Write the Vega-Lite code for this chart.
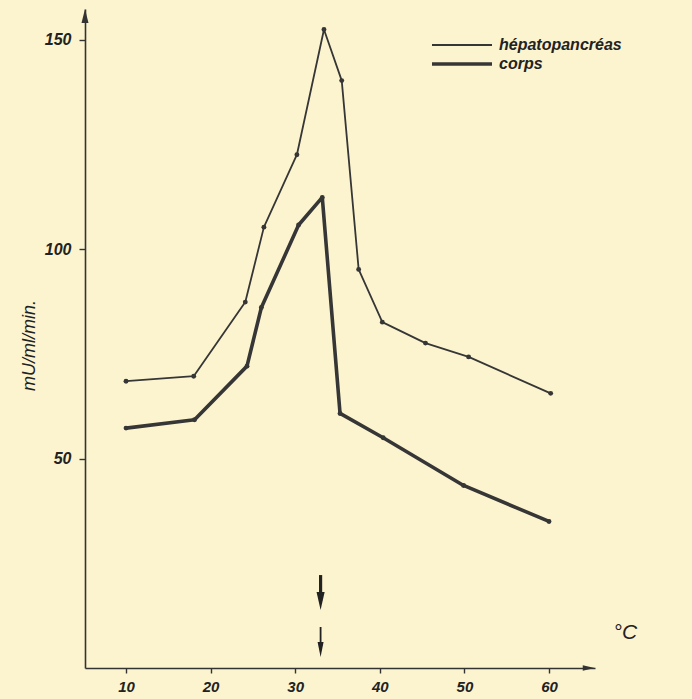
{
  "$schema": "https://vega.github.io/schema/vega-lite/v6.json",
  "width": 510,
  "height": 659,
  "autosize": {"type": "none"},
  "padding": {"left": 85, "top": 9, "right": 97, "bottom": 31},
  "background": "#fcf4cf",
  "config": {
    "view": {"stroke": null},
    "font": "Liberation Sans",
    "axis": {
      "grid": false,
      "domainColor": "#333333",
      "domainWidth": 1.6,
      "tickColor": "#333333",
      "tickWidth": 1.4,
      "labelFont": "Liberation Sans",
      "labelFontStyle": "italic",
      "labelFontWeight": "bold",
      "labelFontSize": 15,
      "labelColor": "#222222",
      "titleFont": "Liberation Sans",
      "titleFontStyle": "italic",
      "titleFontWeight": "normal",
      "titleColor": "#222222"
    }
  },
  "datasets": {
    "mesures": [
      {"serie": "hépatopancréas", "temp": 10, "act": 68.5},
      {"serie": "hépatopancréas", "temp": 18, "act": 69.7},
      {"serie": "hépatopancréas", "temp": 24.1, "act": 87.4},
      {"serie": "hépatopancréas", "temp": 26.3, "act": 105.3},
      {"serie": "hépatopancréas", "temp": 30.2, "act": 122.6},
      {"serie": "hépatopancréas", "temp": 33.4, "act": 152.5},
      {"serie": "hépatopancréas", "temp": 35.5, "act": 140.3},
      {"serie": "hépatopancréas", "temp": 37.5, "act": 95.2},
      {"serie": "hépatopancréas", "temp": 40.3, "act": 82.6},
      {"serie": "hépatopancréas", "temp": 45.4, "act": 77.6},
      {"serie": "hépatopancréas", "temp": 50.5, "act": 74.3},
      {"serie": "hépatopancréas", "temp": 60.2, "act": 65.6},
      {"serie": "corps", "temp": 10, "act": 57.3},
      {"serie": "corps", "temp": 18.1, "act": 59.3},
      {"serie": "corps", "temp": 24.3, "act": 72.1},
      {"serie": "corps", "temp": 26, "act": 86.1},
      {"serie": "corps", "temp": 30.4, "act": 105.8},
      {"serie": "corps", "temp": 33.2, "act": 112.4},
      {"serie": "corps", "temp": 35.3, "act": 60.8},
      {"serie": "corps", "temp": 40.4, "act": 55.0},
      {"serie": "corps", "temp": 49.9, "act": 43.6},
      {"serie": "corps", "temp": 60, "act": 35.0}
    ],
    "fleches": [
      {"kind": "épaisse", "temp": 33, "act": 22.2, "head": 16.0},
      {"kind": "fine", "temp": 33, "act": 9.8, "head": 4.4}
    ],
    "axes": [
      {"axe": "y", "temp": 5.15, "act": 155.7},
      {"axe": "x", "temp": 64.7, "act": 0}
    ]
  },
  "layer": [
    {
      "data": {"name": "mesures"},
      "mark": {"type": "line", "color": "#363636", "strokeJoin": "round", "strokeCap": "round"},
      "encoding": {
        "x": {
          "field": "temp", "type": "quantitative",
          "scale": {"domain": [5.15, 65.44], "nice": false, "zero": false},
          "axis": {
            "values": [10, 20, 30, 40, 50, 60],
            "tickSize": 5,
            "labelPadding": 6,
            "title": "°C",
            "titleFontSize": 21,
            "titleX": 528,
            "titleY": -36,
            "titleAlign": "left",
            "titleBaseline": "middle",
            "titleAngle": 0
          }
        },
        "y": {
          "field": "act", "type": "quantitative",
          "scale": {"domain": [0, 157.4], "nice": false},
          "axis": {
            "values": [50, 100, 150],
            "tickSize": 6,
            "labelPadding": 8,
            "labelFontSize": 16,
            "title": "mU/ml/min.",
            "titleFontSize": 18,
            "titleX": -56,
            "titleY": 336,
            "titleAlign": "center",
            "titleBaseline": "middle",
            "titleAngle": -90
          }
        },
        "strokeWidth": {
          "field": "serie", "type": "ordinal",
          "scale": {"domain": ["hépatopancréas", "corps"], "range": [1.8, 3.6]},
          "legend": {
            "orient": "none",
            "legendX": 369,
            "legendY": 28,
            "title": null,
            "symbolType": "M-6,0H6",
            "symbolSize": 100,
            "symbolStrokeColor": "#363636",
            "symbolFillColor": "#363636",
            "labelFont": "Liberation Sans",
            "labelFontSize": 16,
            "labelFontStyle": "italic",
            "labelFontWeight": "bold",
            "labelColor": "#222222",
            "labelOffset": 29,
            "rowPadding": 3
          }
        }
      }
    },
    {
      "data": {"name": "mesures"},
      "mark": {"type": "point", "filled": true, "color": "#363636", "size": 24, "opacity": 1},
      "encoding": {
        "x": {"field": "temp", "type": "quantitative"},
        "y": {"field": "act", "type": "quantitative"}
      }
    },
    {
      "data": {"name": "fleches"},
      "transform": [{"filter": "datum.kind === 'épaisse'"}],
      "layer": [
        {
          "mark": {"type": "rule", "color": "#222222", "strokeWidth": 3.2},
          "encoding": {
            "x": {"field": "temp", "type": "quantitative"},
            "y": {"field": "act", "type": "quantitative"},
            "y2": {"field": "head"}
          }
        },
        {
          "mark": {"type": "point", "filled": true, "color": "#222222", "opacity": 1, "shape": "M-0.45,-1L0.45,-1L0,1Z", "size": 324},
          "encoding": {
            "x": {"field": "temp", "type": "quantitative"},
            "y": {"field": "head", "type": "quantitative"}
          }
        }
      ]
    },
    {
      "data": {"name": "fleches"},
      "transform": [{"filter": "datum.kind === 'fine'"}],
      "layer": [
        {
          "mark": {"type": "rule", "color": "#222222", "strokeWidth": 1.8},
          "encoding": {
            "x": {"field": "temp", "type": "quantitative"},
            "y": {"field": "act", "type": "quantitative"},
            "y2": {"field": "head"}
          }
        },
        {
          "mark": {"type": "point", "filled": true, "color": "#222222", "opacity": 1, "shape": "M-0.4,-1L0.4,-1L0,1Z", "size": 225},
          "encoding": {
            "x": {"field": "temp", "type": "quantitative"},
            "y": {"field": "head", "type": "quantitative"}
          }
        }
      ]
    },
    {
      "data": {"name": "axes"},
      "transform": [{"filter": "datum.axe === 'y'"}],
      "mark": {"type": "point", "filled": true, "color": "#333333", "opacity": 1, "shape": "M0,-1L-0.5,1L0.5,1Z", "size": 196},
      "encoding": {
        "x": {"field": "temp", "type": "quantitative"},
        "y": {"field": "act", "type": "quantitative"}
      }
    },
    {
      "data": {"name": "axes"},
      "transform": [{"filter": "datum.axe === 'x'"}],
      "mark": {"type": "point", "filled": true, "color": "#333333", "opacity": 1, "shape": "M1,0L-1,-0.45L-1,0.45Z", "size": 144},
      "encoding": {
        "x": {"field": "temp", "type": "quantitative"},
        "y": {"field": "act", "type": "quantitative"}
      }
    }
  ]
}
